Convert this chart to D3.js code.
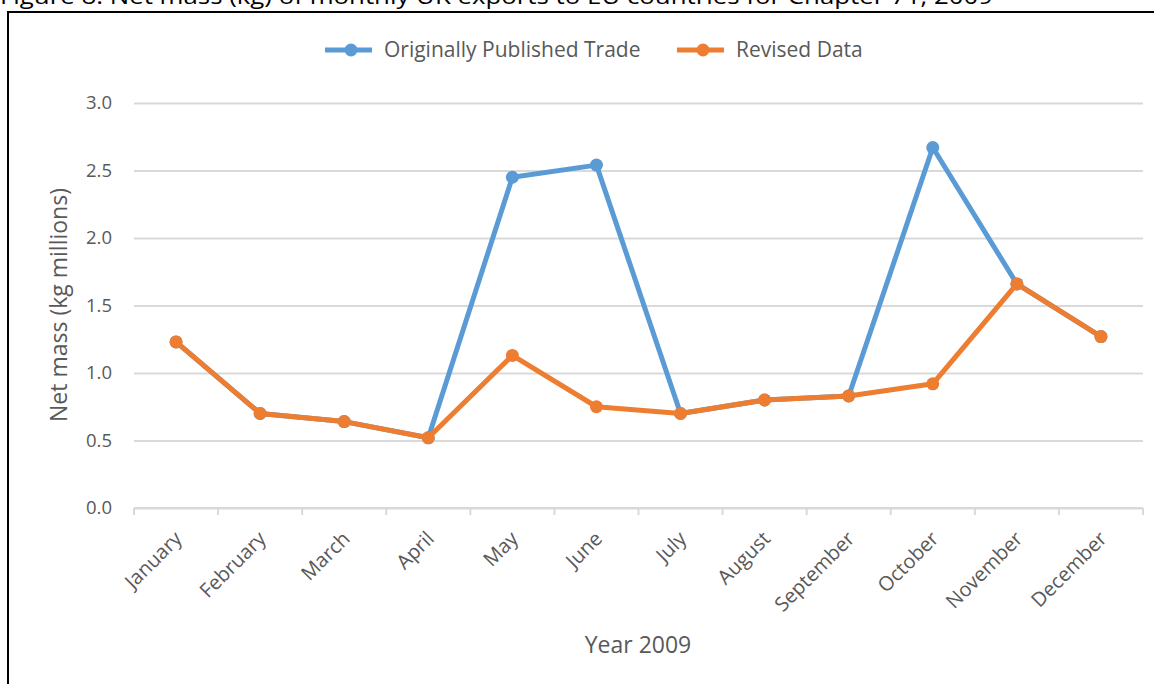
<!DOCTYPE html>
<html>
<head>
<meta charset="utf-8">
<script src="https://cdn.jsdelivr.net/npm/d3@7/dist/d3.min.js"></script>
<style>
  body { margin: 0; background: #fff; }
  svg { display: block; font-family: "Open Sans", Lato, sans-serif; }
  .grid line { stroke: #d9d9d9; stroke-width: 2px; }
  .tick text { fill: #595959; }
</style>
</head>
<body>
<svg id="svg" width="1154" height="684"></svg>
<script>
// data
var months = ["January", "February", "March", "April", "May", "June",
              "July", "August", "September", "October", "November", "December"];
var original = [1.23, 0.70, 0.64, 0.52, 2.45, 2.54, 0.70, 0.80, 0.83, 2.67, 1.66, 1.27];
var revised  = [1.23, 0.70, 0.64, 0.52, 1.13, 0.75, 0.70, 0.80, 0.83, 0.92, 1.66, 1.27];
var yTicks = [0, 0.5, 1.0, 1.5, 2.0, 2.5, 3.0];
var seriesNames = ["Originally Published Trade", "Revised Data"];
var colors = ["#5b9bd5", "#ed7d31"];

var svg = d3.select("#svg");
// note: "top" is a reserved window prop, so use plot* names
var plotLeft = 134, plotRight = 1143, plotTop = 103, plotBottom = 508;

// figure caption, cut off at the top of the page
svg.append("text")
  .attr("x", 0).attr("y", 4)
  .attr("font-size", 22)
  .attr("fill", "#000")
  .attr("textLength", 993)
  .attr("lengthAdjust", "spacingAndGlyphs")
  .text("Figure 8: Net mass (kg) of monthly UK exports to EU countries for Chapter 71, 2009");

// frame
svg.append("rect")
  .attr("x", 8).attr("y", 12)
  .attr("width", 1160).attr("height", 700)
  .attr("fill", "none").attr("stroke", "#000").attr("stroke-width", 2);

var x = d3.scaleBand().domain(months).range([plotLeft, plotRight]);
var y = d3.scaleLinear().domain([0, 3]).range([plotBottom, plotTop]);

// horizontal gridlines + y labels
var yAxis = svg.append("g")
  .attr("class", "grid")
  .attr("transform", "translate(" + plotLeft + ",0)")
  .call(d3.axisLeft(y).tickValues(yTicks).tickFormat(d3.format(".1f"))
        .tickSize(-(plotRight - plotLeft)).tickPadding(22));
yAxis.select(".domain").remove();
yAxis.selectAll(".tick text").attr("font-size", 18.5).attr("font-family", "Open Sans");

// x axis line with ticks between categories
var xg = svg.append("g").attr("transform", "translate(0," + plotBottom + ")");
xg.append("line")
  .attr("x1", plotLeft).attr("x2", plotRight)
  .attr("stroke", "#d9d9d9").attr("stroke-width", 2);
var edges = months.map(function(m) { return x(m); }).concat([plotRight]);
xg.selectAll(".xt").data(edges).enter().append("line")
  .attr("x1", function(d) { return d; }).attr("x2", function(d) { return d; })
  .attr("y1", 0).attr("y2", 7)
  .attr("stroke", "#d9d9d9").attr("stroke-width", 2);
xg.selectAll(".xl").data(months).enter().append("text")
  .attr("transform", function(d) {
    return "translate(" + (x(d) + x.bandwidth() / 2 + 7) + ",32) rotate(-45)";
  })
  .attr("text-anchor", "end")
  .attr("font-size", 20)
  .attr("fill", "#595959")
  .text(function(d) { return d; });

// axis titles
svg.append("text")
  .attr("transform", "translate(67,305) rotate(-90)")
  .attr("text-anchor", "middle")
  .attr("font-size", 23)
  .attr("fill", "#595959")
  .text("Net mass (kg millions)");
svg.append("text")
  .attr("x", 638).attr("y", 653)
  .attr("text-anchor", "middle")
  .attr("font-size", 23)
  .attr("fill", "#595959")
  .text("Year 2009");

// lines and markers
var line = d3.line()
  .x(function(d, i) { return x(months[i]) + x.bandwidth() / 2; })
  .y(function(d) { return y(d); });

[original, revised].forEach(function(vals, k) {
  var g = svg.append("g");
  g.append("path")
    .datum(vals)
    .attr("fill", "none")
    .attr("stroke", colors[k])
    .attr("stroke-width", 5)
    .attr("stroke-linejoin", "round")
    .attr("d", line);
  g.selectAll("circle").data(vals).enter().append("circle")
    .attr("cx", function(d, i) { return x(months[i]) + x.bandwidth() / 2; })
    .attr("cy", function(d) { return y(d); })
    .attr("r", 6.5)
    .attr("fill", colors[k]);
});

// legend
var legX = [325, 677];
seriesNames.forEach(function(name, k) {
  var lg = svg.append("g").attr("transform", "translate(" + legX[k] + ",50)");
  lg.append("line").attr("x1", 0).attr("x2", 47)
    .attr("stroke", colors[k]).attr("stroke-width", 5);
  lg.append("circle").attr("cx", 26).attr("r", 6.5).attr("fill", colors[k]);
  lg.append("text").attr("x", 59).attr("dy", "0.35em")
    .attr("font-size", 21).attr("fill", "#595959")
    .text(name);
});
</script>
</body>
</html>
